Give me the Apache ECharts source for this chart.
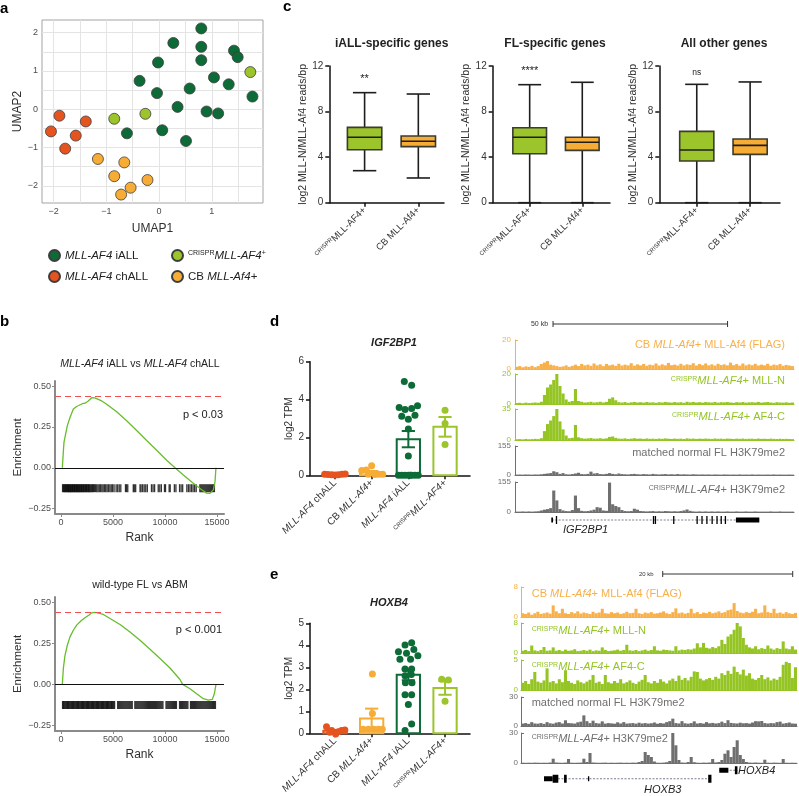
<!DOCTYPE html>
<html>
<head>
<meta charset="utf-8">
<script src="https://cdn.jsdelivr.net/npm/echarts@6/dist/echarts.min.js"></script>
<style>
html,body{margin:0;padding:0;background:#ffffff;}
#chart{width:799px;height:796px;}
</style>
</head>
<body>
<div id="chart"></div>
<script>
// ================= DATA =================
// Panel a: UMAP
const umapIALL = [[0.80,2.11],[0.27,1.73],[0.80,1.63],[1.42,1.53],[1.49,1.36],[0.80,1.28],[-0.02,1.22],[1.04,0.83],[-0.37,0.74],[1.32,0.65],[0.58,0.54],[-0.04,0.42],[1.77,0.33],[0.35,0.06],[0.90,-0.06],[1.12,-0.11],[0.06,-0.55],[-0.61,-0.63],[0.51,-0.83]];
const umapChALL = [[-1.89,-0.17],[-1.39,-0.32],[-2.05,-0.58],[-1.58,-0.69],[-1.78,-1.03]];
const umapCRISPR = [[1.73,0.97],[-0.85,-0.25],[-0.26,-0.12]];
const umapCB = [[-1.16,-1.30],[-0.66,-1.39],[-0.85,-1.75],[-0.22,-1.85],[-0.54,-2.05],[-0.72,-2.23]];
const umapTicksX = [-2,-1,0,1];
const umapTicksY = [-2,-1,0,1,2];
const umapGridX = [-2,-1.5,-1,-0.5,0,0.5,1,1.5];
const umapGridY = [-2,-1.5,-1,-0.5,0,0.5,1,1.5,2];
const umapNames = ['MLL-AF4 iALL','MLL-AF4 chALL','CRISPR MLL-AF4+','CB MLL-Af4+'];

// Panel b: GSEA running enrichment
const gsea1 = [[128,0],[224,0.097],[288,0.157],[385,0.188],[609,0.258],[865,0.308],[1186,0.359],[1506,0.375],[1700,0.381],[1891,0.379],[2050,0.392],[2308,0.395],[2500,0.402],[2628,0.409],[2800,0.418],[2949,0.429],[3109,0.436],[3250,0.428],[3429,0.423],[3910,0.409],[4391,0.389],[5353,0.343],[6314,0.288],[7276,0.228],[8237,0.167],[9199,0.107],[10160,0.046],[10962,0],[11763,-0.044],[12724,-0.095],[13526,-0.135],[14006,-0.155],[14327,-0.157],[14647,-0.135],[14808,-0.085],[14900,0]];
const gsea2 = [[128,0],[224,0.096],[385,0.177],[609,0.238],[865,0.289],[1186,0.329],[1506,0.36],[1987,0.39],[2300,0.405],[2468,0.417],[2700,0.422],[2949,0.435],[3200,0.437],[3429,0.436],[4071,0.425],[4712,0.40],[5673,0.364],[6635,0.319],[7596,0.268],[8558,0.213],[9519,0.157],[10481,0.10],[11442,0.03],[11699,0],[12404,-0.026],[13045,-0.057],[13686,-0.087],[14167,-0.096],[14551,-0.091],[14744,-0.057],[14904,0]];
const gseaMax1 = 0.436;
const gseaMax2 = 0.437;
const hits1 = [150,230,300,360,430,490,550,620,680,740,800,870,930,990,1060,1120,1180,1250,1310,1370,1440,1500,1570,1630,1700,1760,1830,1900,1960,2030,2100,2160,2230,2300,2370,2440,2510,2580,2650,2720,2800,2880,2960,3040,3130,3220,3330,3440,3560,3680,3800,3930,4050,4180,4300,4430,4560,4700,4830,4960,5100,5300,5450,5600,5750,6200,6300,6420,6950,7050,7180,7600,7700,7850,8000,8150,8300,8700,8850,9000,9350,9500,9650,9950,10050,10400,10500,10900,11050,11400,11550,11700,12100,12250,12400,12550,12700,12850,13000,13350,13450,13550,13650,13750,13850,13950,14050,14150,14250,14350,14450,14550,14650,14750];
const hits2 = [150,230,310,390,470,550,630,710,790,870,950,1030,1110,1190,1270,1350,1430,1510,1590,1670,1750,1830,1910,1990,2070,2150,2230,2310,2390,2470,2550,2630,2710,2790,2870,2950,3030,3110,3190,3270,3350,3430,3510,3590,3670,3750,3830,3910,3990,4070,4150,4230,4310,4390,4470,4550,4630,4710,4790,4870,4950,5050,5150,5450,5550,5650,5750,5850,5950,6050,6150,6250,6350,6450,6550,6650,6750,6850,7100,7200,7300,7400,7500,7600,7700,7800,7900,8000,8100,8200,8300,8400,8500,8600,8700,8800,8900,9000,9100,9200,9300,9400,9500,9600,9700,9800,10100,10200,10300,10400,10500,10600,10700,10800,10900,11000,11100,11400,11500,11600,11700,11800,11900,12000,12100,12200,12450,12550,12650,12750,12850,12950,13050,13150,13250,13350,13450,13550,13650,13750,13850,13950,14050,14150,14250,14350,14450,14550,14650,14750,14850];
const rankTicks = [0,5000,10000,15000];
const esTicks = [-0.25,0,0.25,0.5];

// Panel c: boxplots [position, min, Q1, median, Q3, max]
const boxIALL = [[1,2.81,4.65,5.74,6.61,9.66],[2,2.17,4.92,5.39,5.85,9.54]];
const boxFL = [[1,0,4.30,5.74,6.58,10.36],[2,0,4.59,5.30,5.74,10.57]];
const boxOther = [[1,0,3.66,4.62,6.26,10.39],[2,0,4.24,5.03,5.59,10.60]];
const boxTitles = ['iALL-specific genes','FL-specific genes','All other genes'];
const boxSig = ['**','****','ns'];
const boxCats = ['{s|CRISPR}{n|MLL-AF4+}','{n|CB MLL-Af4+}'];
const boxTicksY = [0,4,8,12];

// Panel d: IGF2BP1 log2 TPM
const dChALL = [0.06,0.04,0.03,0.02,0.03,0.05,0.07];
const dChALLJit = [-0.28,-0.19,-0.09,0,0.09,0.19,0.28];
const dCB = [0.25,0.51,0.28,0.05,0.04,0.05,0.06];
const dCBJit = [-0.27,0,-0.15,-0.09,0.09,0.2,0.3];
const dIALL = [4.96,4.75,3.58,3.47,3.53,3.68,3.12,2.96,3.17,2.44,1.02,0,0,0,0,0,0,0,0];
const dIALLJit = [-0.11,0.09,-0.25,-0.09,0.09,0.25,-0.18,0,0.18,0,0,-0.27,-0.18,-0.09,0,0.09,0.18,0.27,0.05];
const dCRISPR = [3.44,2.74,1.63];
const dCRISPRJit = [0,0,0];
const dMean = [0.04,0.16,1.91,2.56];
const dSem = [0.01,0.07,0.43,0.52];
const dTicksY = [0,2,4,6];

// Panel e: HOXB4 log2 TPM
const eChALL = [0.30,0.12,-0.03,0.07,0.12,0.15,0.05];
const eChALLJit = [-0.23,-0.09,0.02,0.09,0.18,0.27,-0.14];
const eCB = [2.70,0.90,0.18,0.18,0.18,0.18,0.18];
const eCBJit = [0.02,0.02,-0.23,-0.09,0.06,0.18,0.29];
const eIALL = [4.01,4.11,3.71,3.64,3.81,3.37,3.37,3.52,2.92,2.92,2.62,2.67,2.30,2.30,1.75,1.75,1.31,0.42,0.12];
const eIALLJit = [-0.09,0.09,-0.27,-0.05,0.15,-0.23,0.06,0.26,-0.09,0.09,-0.09,0.08,-0.08,0.1,-0.09,0.09,0,0.09,-0.09];
const eCRISPR = [2.46,2.42,1.46];
const eCRISPRJit = [-0.09,0.09,0];
const eMean = [0.11,0.67,2.66,2.06];
const eSem = [0.04,0.45,0.25,0.31];
const eTicksY = [0,1,2,3,4,5];
const barCats = ['{i|MLL-AF4}{n| chALL}','{n|CB }{i|MLL-Af4+}','{i|MLL-AF4}{n| iALL}','{s|CRISPR}{i|MLL-AF4+}'];

// Genome browser tracks, panel d (IGF2BP1 locus)
const dT1 = [1.5,2,1.2,1.8,1.5,2.2,1.3,2,3.5,4.5, 5.5,3,2.5,2,1.5,1.8,2.5,1.5,2.2,3, 2,3.5,2.5,3,2.2,3.8,2.5,3.2,2,3.5, 2.5,3,2.2,3.6,2.4,3,2.5,4,2.3,3.2, 2.5,3.5,2.2,3,2.6,3.8,2.4,3.2,2.5,4.2, 2.6,3,2.4,3.6,2.5,3.2,2.8,4,2.4,3.4, 2.6,3.8,2.5,3.2,2.4,3.6,2.7,3.2,2.5,4.4, 2.6,3.4,2.3,3.8,2.5,3.2,2.6,3.6,2.4,3, 2.5,3.6,2.3,3,2.6,3.4,2.2,2.8,2.4,2];
const dT2 = [0.6,0.8,0.5,0.9,0.6,0.8,1,0.8,1.5,6, 11,13,16,20,12,7,3,1.5,2,10, 2,1.5,1,1.2,1.5,1,1.2,1.5,1,1.4, 3.5,4.4,2.5,1.2,1,1.3,0.8,1.1,1.4,1, 1.2,0.9,1.3,1,1.1,0.8,1.2,1,1.4,1.1, 0.9,1.3,1,1.2,0.8,1.5,1.1,1.4,1,1.2, 0.9,1.3,1.1,1,1.4,0.9,1.2,1.1,1.3,1, 0.8,1.2,1,1.3,0.9,1.1,1.2,1,1.4,0.9, 1.1,1.3,1,0.8,1.2,1,0.9,1.1,0.8,1];
const dT3 = [0.8,1,0.7,1.2,0.8,1,1.3,1,2,10, 18,22,27,35,21,12,5,2,2.5,17, 3,2,1.5,1.8,2.2,1.5,1.6,2,1.4,1.8, 3.5,4,2.4,1.6,1.4,1.8,1.2,1.5,2,1.4, 1.6,1.2,1.7,1.3,1.5,1.2,1.6,1.3,1.8,1.4, 1.2,1.6,1.3,1.5,1.1,1.8,1.4,1.6,1.2,1.5, 1.3,1.6,1.4,1.2,1.7,1.3,1.5,1.2,1.6,1.4, 1.1,1.5,1.3,1.6,1.2,1.4,1.5,1.2,1.6,1.3, 1.4,1.2,1.5,1.3,1.1,1.4,1.2,1.3,1.1,1];
const dT4 = [2,2.5,2,3,2.5,2,3,2.5,4,6, 8,10,20,15,6,10,4,3,5,8, 12,5,4,6,18,8,10,5,4,6, 10,6,4,8,5,4,3,5,6,4, 3,5,4,3,6,4,3,4,5,3, 4,3,5,3,4,3,2.5,4,3,2.5, 3,2.5,3,2,3,2.5,2,3,2.5,2, 2.5,2,3,2,2.5,2,3,2,2.5,2, 2,2.5,2,3,2,2.5,2,2,2.5,2];
const dT5 = [2,2,3,2,3,2,3,4,8,12, 15,20,111,60,15,8,5,4,10,85, 20,6,4,5,8,12,25,22,8,6, 152,40,31,25,10,5,4,5,17,12, 5,4,3,4,5,3,4,3,5,4, 3,4,3,5,8,13,6,3,2,3, 2,3,2,3,2,3,2,2,3,2, 2,3,2,2,3,2,2,3,2,2, 2,2,3,2,2,3,2,2,2,2];
const dTrackMax = [20,20,35,155,155];
const dTrackLabels = ['{n|CB }{i|MLL-Af4}{n|+ MLL-Af4 (FLAG)}','{s|CRISPR}{i|MLL-AF4}{n|+ MLL-N}','{s|CRISPR}{i|MLL-AF4}{n|+ AF4-C}','{n|matched normal FL H3K79me2}','{s|CRISPR}{i|MLL-AF4}{n|+ H3K79me2}'];
// gene model (kb from track start): introns [start, end, row], exons [start, end, row, kind 0=UTR 1=coding]
const dSpanKb = 79.94;
const igfIntrons = [[10.5,70.0,0.5]];
const igfExons = [[10.4,10.9,0.5,0],[11.7,11.95,0.5,1],[39.5,39.75,0.5,1],[40.05,40.3,0.5,1],[45.3,45.55,0.5,1],[52.0,52.25,0.5,1],[53.4,53.65,0.5,1],[54.8,55.05,0.5,1],[56.3,56.55,0.5,1],[57.7,57.95,0.5,1],[58.9,59.15,0.5,1],[60.1,60.35,0.5,1],[63.3,70.0,0.5,0]];
const dScale = [[10.9,60.9]];
const dScaleLabel = '50 kb';

// Genome browser tracks, panel e (HOXB3/HOXB4 locus)
const eT1 = [1,0.8,1.2,0.6,1,1.4,0.8,1,1.2,0.9, 3.1,1.5,1,2.2,1,0.8,1.3,1,1.5,0.9, 1.2,1,0.8,1.4,1,1.2,2.2,1,0.9,1.3, 1,1.2,0.8,1,1.4,1,1.1,2.2,1,0.8, 1.2,1,1.3,0.9,1,1.2,1.5,1,0.8,1.3, 2.3,1,1.2,0.9,1.1,2.2,1,1.3,0.8,1.2, 1,1.4,1,1.2,1.5,1.1,1.3,1.8,2,3.7, 1.6,1.2,1,1.3,1.1,1.4,2.2,1,1.2,3.1, 1.3,1.1,2.2,1,1.2,0.9,1.3,1,0.8,1.1];
const eT2 = [0.6,0.8,0.5,2,0.7,0.5,0.8,1.6,0.6,0.7, 1.5,0.6,0.8,0.5,0.9,0.6,0.7,1,0.5,0.6, 0.8,0.6,0.9,0.5,0.7,0.6,1.5,0.8,0.5,0.6, 0.7,0.9,0.6,0.8,2.2,0.7,0.6,0.8,0.5,0.7, 0.9,0.6,0.8,1.8,0.7,0.6,0.9,0.8,0.7,0.6, 1.8,0.7,0.9,0.8,1,0.9,1.2,2.6,1.5,2.7, 1.4,1.2,1.6,1.3,1.8,3.5,2.4,4.4,5,6.2, 8,7.1,4,2.2,1.5,1.2,1.8,1,1.3,1.1, 2,1.2,0.9,1.3,1.1,3.1,1.2,1,1.8,0.9];
const eT3 = [1.2,1.5,1,1.8,3,1.4,1.2,1.6,3.6,1.3, 1.5,1.1,1.8,1.3,3.3,1.5,1.2,1,1.6,1.3, 1.1,1.4,1.7,2.5,1.2,1.4,1,2.5,1.3,1.1, 1.5,1.2,1.8,1.1,1.3,1.6,1.2,1,1.4,1.7, 2.5,1.3,1.1,1.5,1.2,1.8,1.4,1.1,1.6,1.9, 1.5,2.4,1.7,2,1.6,2.2,3.1,3,1.9,1.6, 1.8,2,1.7,2.2,1.9,2.8,2.5,3.2,2.7,3.9, 3,2.6,3.4,2.4,2.8,1.9,1.7,2,2.5,1.8, 2.1,1.6,1.9,1.7,2.2,4.2,4.7,4.5,2,3.8];
const eT4 = [2.5,3,2.2,4,2.6,2.4,3,2.2,4,2.8, 2.4,3.5,4,2.6,5.9,3,2.8,2.5,3.8,4.5, 11,5,3,5.5,3,2.6,4.8,2.5,3,2.7, 2.4,3.8,2.6,4,2.5,2.8,3,2.4,3.4,2.6, 3,2.5,2.8,3.6,2.4,3,2.6,4,5,7.6, 3,2.6,5,2.8,2.4,3,4.8,2.6,3,2.5, 4,2.8,3.2,2.6,3,4.5,3,6,3.2,2.8, 2.6,3.4,2.8,3,2.5,3.6,5,4.8,5.2,3, 2.6,3,2.8,4,4.5,2.5,3,3.6,2.6,2.4];
const eT5 = [0.3,0.2,0.3,0.2,0.4,0.3,0.2,0.3,0.2,0.5, 4.3,0.5,0.3,0.2,0.4,4,0.3,0.2,0.3,0.4, 4.3,1,10,0.5,0.3,0.2,0.3,0.4,0.2,0.3, 0.2,0.3,0.4,0.2,0.3,0.2,0.4,0.3,1,2, 11,8,6,1.5,0.3,0.2,0.4,0.8,2,30, 17.7,3,0.5,0.3,1,6,0.8,0.3,0.2,0.4, 0.3,0.5,4,0.6,1,3,9.3,12.7,6,16, 22.7,8,4,1,0.4,0.3,0.5,0.3,0.2,3.3, 0.3,0.2,0.4,0.3,0.2,4,0.3,0.2,0.3,0.2];
const eTrackMax = [8,8,5,30,30];
const eTrackLabels = dTrackLabels;
const eSpanKb = 42.46;
const hoxIntrons = [[3.54,29.3,0.5],[30.5,33.3,1.5]];
const hoxExons = [[3.54,4.87,0.5,0],[4.87,5.74,0.5,1],[6.62,7.03,0.5,1],[10.3,10.5,0.5,0],[28.8,29.3,0.5,1],[30.5,31.9,1.5,0],[32.9,33.3,1.5,1]];
const eScale = [[21.8,41.8]];
const eScaleLabel = '20 kb';

// ================= STYLE / LAYOUT =================
const FONT = '"Liberation Sans", Arial, Helvetica, sans-serif';
const COL = {iall:'#0d6b37', chall:'#e5531f', crispr:'#9cc52b', cb:'#f6ac35'};
const TRK = {orange:'#f8b04a', green:'#94c524', grey:'#6f6f6f'};
const groupColors = [COL.chall, COL.cb, COL.iall, COL.crispr];

function ecRich(size, color) {
  const b = {fontFamily: FONT, fontSize: size, color: color};
  return {
    n: Object.assign({}, b),
    i: Object.assign({}, b, {fontStyle: 'italic'}),
    s: Object.assign({}, b, {fontSize: Math.max(5, Math.round(size * 0.6)), verticalAlign: 'top'})
  };
}
function zrRich(size, color) {
  const b = {fontFamily: FONT, fontSize: size, fill: color, color: color};
  return {
    n: Object.assign({}, b),
    i: Object.assign({}, b, {fontStyle: 'italic'}),
    s: Object.assign({}, b, {fontSize: Math.max(5, Math.round(size * 0.6)), verticalAlign: 'top'})
  };
}
function fmtMinus(v) { return v < 0 ? '\u2212' + String(-v) : String(v); }
function fmtES(v) { return v < 0 ? '\u2212' + (-v).toFixed(2) : v.toFixed(2); }
function fmtPlain(v) { return String(v); }

const grids = [], xAxes = [], yAxes = [], series = [], graphics = [];
function addGrid(g, x, y) {
  grids.push(Object.assign({containLabel: false}, g));
  const gi = grids.length - 1;
  xAxes.push(Object.assign({gridIndex: gi}, x));
  yAxes.push(Object.assign({gridIndex: gi}, y));
  return gi;
}
function txt(x, y, text, size, color, align, opt) {
  opt = opt || {};
  graphics.push({
    type: 'text', x: x, y: y, rotation: opt.rot || 0, silent: true, z: 100,
    style: {
      text: text, rich: zrRich(size, color),
      font: (opt.italic ? 'italic ' : '') + (opt.weight || 'normal') + ' ' + size + 'px ' + FONT,
      fill: color, align: align || 'left', verticalAlign: 'middle'
    }
  });
}
const nameStyle = (s) => ({fontSize: s, color: '#303030', fontFamily: FONT});

// ---------- Panel a: UMAP ----------
const gA = addGrid({left: 42, top: 20, width: 221, height: 183, show: true, borderColor: '#a3a3a3', borderWidth: 1},
  {type: 'value', min: -2.22, max: 1.97, axisLine: {show: false, onZero: false},
   axisTick: {show: false, customValues: umapGridX},
   axisLabel: {customValues: umapTicksX, formatter: fmtMinus, fontSize: 9, color: '#4d4d4d', margin: 4, fontFamily: FONT},
   splitLine: {show: true, lineStyle: {color: '#e4e4e4', width: 1}},
   name: 'UMAP1', nameLocation: 'middle', nameGap: 20, nameTextStyle: nameStyle(12)},
  {type: 'value', min: -2.45, max: 2.33, axisLine: {show: false, onZero: false},
   axisTick: {show: false, customValues: umapGridY},
   axisLabel: {customValues: umapTicksY, formatter: fmtMinus, fontSize: 9, color: '#4d4d4d', margin: 4, fontFamily: FONT},
   splitLine: {show: true, lineStyle: {color: '#e4e4e4', width: 1}},
   name: 'UMAP2', nameLocation: 'middle', nameGap: 18, nameTextStyle: nameStyle(12)});
[[umapIALL, COL.iall], [umapChALL, COL.chall], [umapCRISPR, COL.crispr], [umapCB, COL.cb]].forEach((d, k) => {
  series.push({type: 'scatter', name: umapNames[k], xAxisIndex: gA, yAxisIndex: gA, data: d[0], symbolSize: 11,
    itemStyle: {color: d[1], borderColor: '#3d3d3d', borderWidth: 0.8, opacity: 1}, z: 5});
});
const legendFmt = {
  'MLL-AF4 iALL': '{i|MLL-AF4}{n| iALL}',
  'MLL-AF4 chALL': '{i|MLL-AF4}{n| chALL}',
  'CRISPR MLL-AF4+': '{s|CRISPR}{i|MLL-AF4}{s|+}',
  'CB MLL-Af4+': '{n|CB }{i|MLL-Af4}{n|+}'
};
const legendBase = {orient: 'vertical', icon: 'circle', itemWidth: 11, itemHeight: 11, itemGap: 8, top: 244,
  formatter: (n) => legendFmt[n], textStyle: {rich: ecRich(11.5, '#222'), fontSize: 11.5, color: '#222'}, selectedMode: false};

// ---------- Panel b: GSEA ----------
function gseaGrid(top, height, curve, esMax, hits) {
  const g = addGrid({left: 55, top: top, width: 169, height: height},
    {type: 'value', min: -577, max: 15673,
     axisLine: {show: true, onZero: false, lineStyle: {color: '#8a8a8a', width: 2}},
     axisTick: {show: true, customValues: rankTicks, length: 3, lineStyle: {color: '#8a8a8a'}},
     axisLabel: {customValues: rankTicks, formatter: fmtPlain, fontSize: 9, color: '#4d4d4d', margin: 4, fontFamily: FONT},
     splitLine: {show: false}, name: 'Rank', nameLocation: 'middle', nameGap: 18, nameTextStyle: nameStyle(12)},
    {type: 'value', min: -0.283, max: 0.531,
     axisLine: {show: true, onZero: false, lineStyle: {color: '#8a8a8a', width: 2}},
     axisTick: {show: true, customValues: esTicks, length: 3, lineStyle: {color: '#8a8a8a'}},
     axisLabel: {customValues: esTicks, formatter: fmtES, fontSize: 9, color: '#4d4d4d', margin: 4, fontFamily: FONT},
     splitLine: {show: false}, name: 'Enrichment', nameLocation: 'middle', nameGap: 27, nameTextStyle: nameStyle(11.5)});
  series.push({type: 'line', xAxisIndex: g, yAxisIndex: g, data: curve, showSymbol: false, z: 4,
    lineStyle: {color: '#67bd2b', width: 1.3}, itemStyle: {color: '#67bd2b'},
    markLine: {silent: true, symbol: 'none', label: {show: false}, animation: false,
      data: [{yAxis: 0, lineStyle: {color: '#111', width: 1, type: 'solid'}},
             {yAxis: esMax, lineStyle: {color: '#ef4f4f', width: 1, type: [6, 4]}}]}});
  series.push({type: 'scatter', xAxisIndex: g, yAxisIndex: g, data: hits.map(r => [r, -0.125]),
    symbol: 'rect', symbolSize: [1.3, 8], itemStyle: {color: '#000000'}, z: 3, silent: true});
}
gseaGrid(381, 133, gsea1, gseaMax1, hits1);
gseaGrid(597, 134, gsea2, gseaMax2, hits2);

// ---------- Panel c: boxplots ----------
const BOX_HALF = 0.32;
const boxFill = [COL.crispr, COL.cb];
function renderBox(params, api) {
  const x = api.value(0);
  const p = (i) => api.coord([x, api.value(i)]);
  const lo = p(1), q1 = p(2), md = p(3), q3 = p(4), hi = p(5);
  const hw = api.size([BOX_HALF, 0])[0];
  const cw = hw * 0.68;
  const ls = {stroke: '#1e1e1e', lineWidth: 1.6};
  return {type: 'group', children: [
    {type: 'line', shape: {x1: lo[0], y1: lo[1], x2: q1[0], y2: q1[1]}, style: ls},
    {type: 'line', shape: {x1: q3[0], y1: q3[1], x2: hi[0], y2: hi[1]}, style: ls},
    {type: 'line', shape: {x1: hi[0] - cw, y1: hi[1], x2: hi[0] + cw, y2: hi[1]}, style: ls},
    {type: 'line', shape: {x1: lo[0] - cw, y1: lo[1], x2: lo[0] + cw, y2: lo[1]}, style: ls},
    {type: 'rect', shape: {x: q3[0] - hw, y: q3[1], width: 2 * hw, height: q1[1] - q3[1]},
     style: {fill: boxFill[params.dataIndex], stroke: '#3b3b30', lineWidth: 1.6}},
    {type: 'line', shape: {x1: md[0] - hw, y1: md[1], x2: md[0] + hw, y2: md[1]}, style: {stroke: '#1e1e1e', lineWidth: 1.6}}
  ]};
}
const boxLayout = [[329.3, 114.7, 0.343, 2.478], [492.7, 117.3, 0.297, 2.527], [659.3, 120.7, 0.298, 2.56]];
[boxIALL, boxFL, boxOther].forEach((bd, k) => {
  const L = boxLayout[k];
  const g = addGrid({left: L[0], top: 66, width: L[1], height: 136.7},
    {type: 'value', min: L[2], max: L[3],
     axisLine: {show: true, onZero: false, lineStyle: {color: '#111', width: 1.5}},
     axisTick: {show: true, customValues: [1, 2], length: 4, lineStyle: {color: '#111', width: 1.5}},
     axisLabel: {customValues: [1, 2], rotate: 45, margin: 6, formatter: (v) => boxCats[Math.round(v) - 1], rich: ecRich(9.5, '#333')},
     splitLine: {show: false}},
    {type: 'value', min: 0, max: 12,
     axisLine: {show: true, onZero: false, lineStyle: {color: '#111', width: 1.5}},
     axisTick: {show: true, customValues: boxTicksY, length: 4, lineStyle: {color: '#111', width: 1.5}},
     axisLabel: {customValues: boxTicksY, fontSize: 10, color: '#333', margin: 6, fontFamily: FONT},
     splitLine: {show: false}, name: 'log2 MLL-N/MLL-Af4 reads/bp', nameLocation: 'middle', nameGap: 19, nameTextStyle: nameStyle(10.5)});
  series.push({type: 'custom', xAxisIndex: g, yAxisIndex: g, data: bd, renderItem: renderBox, z: 3, silent: true});
});

// ---------- Panels d/e: bar + dot plots ----------
const BAR_HALF = 0.317, CAP_HALF = 0.18;
function renderBar(params, api) {
  const x = api.value(0), m = api.value(1), e = api.value(2);
  const base = api.coord([x, 0]), top = api.coord([x, m]);
  const hw = api.size([BAR_HALF, 0])[0], cw = api.size([CAP_HALF, 0])[0];
  const eh = api.coord([x, m + e]), el = api.coord([x, m - e]);
  const col = groupColors[params.dataIndex];
  const ls = {stroke: col, lineWidth: 2};
  return {type: 'group', children: [
    {type: 'rect', shape: {x: base[0] - hw, y: top[1], width: 2 * hw, height: Math.max(0.5, base[1] - top[1])}, style: {fill: '#ffffff', stroke: col, lineWidth: 2}},
    {type: 'line', shape: {x1: eh[0], y1: eh[1], x2: el[0], y2: el[1]}, style: ls},
    {type: 'line', shape: {x1: eh[0] - cw, y1: eh[1], x2: eh[0] + cw, y2: eh[1]}, style: ls},
    {type: 'line', shape: {x1: el[0] - cw, y1: el[1], x2: el[0] + cw, y2: el[1]}, style: ls}
  ]};
}
function barPanel(top, height, ymax, yticks, means, sems, groups) {
  const g = addGrid({left: 310, top: top, width: 160, height: height},
    {type: 'value', min: -0.68, max: 3.68,
     axisLine: {show: true, onZero: false, lineStyle: {color: '#111', width: 1.5}},
     axisTick: {show: true, customValues: [0, 1, 2, 3], length: 4, lineStyle: {color: '#111', width: 1.5}},
     axisLabel: {customValues: [0, 1, 2, 3], rotate: 45, margin: 6, formatter: (v) => barCats[Math.round(v)], rich: ecRich(10, '#333')},
     splitLine: {show: false}},
    {type: 'value', min: 0, max: ymax,
     axisLine: {show: true, onZero: false, lineStyle: {color: '#111', width: 1.5}},
     axisTick: {show: true, customValues: yticks, length: 4, lineStyle: {color: '#111', width: 1.5}},
     axisLabel: {customValues: yticks, fontSize: 10, color: '#333', margin: 6, fontFamily: FONT},
     splitLine: {show: false}, name: 'log2 TPM', nameLocation: 'middle', nameGap: 16, nameTextStyle: nameStyle(10)});
  series.push({type: 'custom', xAxisIndex: g, yAxisIndex: g, data: means.map((m, i) => [i, m, sems[i]]), renderItem: renderBar, z: 2, silent: true, clip: false});
  groups.forEach((gr, i) => {
    series.push({type: 'scatter', xAxisIndex: g, yAxisIndex: g, data: gr[0].map((v, j) => [i + gr[1][j], v]),
      symbolSize: 7, itemStyle: {color: groupColors[i], opacity: 1}, z: 3, silent: true, clip: false});
  });
}
barPanel(361.7, 113.6, 6, dTicksY, dMean, dSem, [[dChALL, dChALLJit], [dCB, dCBJit], [dIALL, dIALLJit], [dCRISPR, dCRISPRJit]]);
barPanel(623.3, 111.7, 5, eTicksY, eMean, eSem, [[eChALL, eChALLJit], [eCB, eCBJit], [eIALL, eIALLJit], [eCRISPR, eCRISPRJit]]);

// ---------- Tracks ----------
const trackColors = [TRK.orange, TRK.green, TRK.green, TRK.grey, TRK.grey];
function trackSet(left, width, layout, tracks, maxes, labelMargin) {
  tracks.forEach((vals, k) => {
    const col = trackColors[k];
    const g = addGrid({left: left, top: layout[k][0], width: width, height: layout[k][1]},
      {type: 'category', data: vals.map((v, i) => i), boundaryGap: true,
       axisLine: {show: true, onZero: false, lineStyle: {color: col, width: 1}},
       axisTick: {show: false}, axisLabel: {show: false}, splitLine: {show: false}},
      {type: 'value', min: 0, max: maxes[k],
       axisLine: {show: true, onZero: false, lineStyle: {color: col, width: 1}},
       axisTick: {show: true, inside: true, customValues: [0, maxes[k]], length: 3, lineStyle: {color: col}},
       axisLabel: {customValues: [0, maxes[k]], fontSize: 8, color: col, margin: labelMargin, fontFamily: FONT},
       splitLine: {show: false}});
    series.push({type: 'bar', xAxisIndex: g, yAxisIndex: g, data: vals, barCategoryGap: '0%', barGap: '0%',
      itemStyle: {color: col}, silent: true, z: 2});
  });
}
trackSet(515, 279, [[340, 29], [374, 30], [409, 31], [446, 29], [482, 30]], [dT1, dT2, dT3, dT4, dT5], dTrackMax, 4);
trackSet(521, 276, [[587, 30], [623, 30], [660, 30], [697, 29], [733, 30]], [eT1, eT2, eT3, eT4, eT5], eTrackMax, 3);

// gene models
function renderIntron(params, api) {
  const a = api.coord([api.value(0), api.value(2)]), b = api.coord([api.value(1), api.value(2)]);
  return {type: 'line', shape: {x1: a[0], y1: a[1], x2: b[0], y2: b[1]}, style: {stroke: '#7a7f8c', lineWidth: 1, lineDash: [2, 1.5]}};
}
function renderExon(params, api) {
  const a = api.coord([api.value(0), api.value(2)]), b = api.coord([api.value(1), api.value(2)]);
  const h = api.value(3) === 1 ? 8 : 5;
  return {type: 'rect', shape: {x: a[0], y: a[1] - h / 2, width: Math.max(1.3, b[0] - a[0]), height: h}, style: {fill: '#000'}};
}
function geneGrid(left, width, top, height, span, rows, introns, exons) {
  const g = addGrid({left: left, top: top, width: width, height: height},
    {type: 'value', min: 0, max: span, show: false}, {type: 'value', min: 0, max: rows, show: false});
  series.push({type: 'custom', xAxisIndex: g, yAxisIndex: g, data: introns, renderItem: renderIntron, silent: true, clip: false});
  series.push({type: 'custom', xAxisIndex: g, yAxisIndex: g, data: exons, renderItem: renderExon, silent: true, clip: false, z: 3});
}
geneGrid(515, 279, 514, 12, dSpanKb, 1, igfIntrons, igfExons);
geneGrid(521, 276, 766, 17, eSpanKb, 2, hoxIntrons, hoxExons);

function scaleGrid(left, width, top, span, data, label, fsize, gap) {
  const g = addGrid({left: left, top: top, width: width, height: 12},
    {type: 'value', min: 0, max: span, show: false}, {type: 'value', min: 0, max: 1, show: false});
  series.push({type: 'custom', xAxisIndex: g, yAxisIndex: g, data: data, silent: true, clip: false,
    renderItem: (params, api) => {
      const a = api.coord([api.value(0), 0.5]), b = api.coord([api.value(1), 0.5]);
      const st = {stroke: '#333', lineWidth: 1};
      return {type: 'group', children: [
        {type: 'line', shape: {x1: a[0], y1: a[1], x2: b[0], y2: b[1]}, style: st},
        {type: 'line', shape: {x1: a[0], y1: a[1] - 3, x2: a[0], y2: a[1] + 3}, style: st},
        {type: 'line', shape: {x1: b[0], y1: b[1] - 3, x2: b[0], y2: b[1] + 3}, style: st},
        {type: 'text', style: {text: label, x: a[0] - gap, y: a[1], fill: '#333', font: fsize + 'px ' + FONT, align: 'right', verticalAlign: 'middle'}}
      ]};
    }});
}
scaleGrid(515, 279, 318, dSpanKb, dScale, dScaleLabel, 7, 5);
scaleGrid(521, 276, 568, eSpanKb, eScale, eScaleLabel, 6, 9);

// ---------- Text annotations ----------
txt(0, 9, 'a', 15, '#000', 'left', {weight: 'bold'});
txt(0, 322, 'b', 15, '#000', 'left', {weight: 'bold'});
txt(283, 7, 'c', 15, '#000', 'left', {weight: 'bold'});
txt(270, 322, 'd', 15, '#000', 'left', {weight: 'bold'});
txt(270, 575, 'e', 15, '#000', 'left', {weight: 'bold'});
txt(140, 364, '{i|MLL-AF4}{n| iALL vs }{i|MLL-AF4}{n| chALL}', 10.5, '#222', 'center');
txt(140, 585, 'wild-type FL vs ABM', 10.5, '#222', 'center');
txt(223, 415, 'p < 0.03', 11, '#222', 'right');
txt(222, 630, 'p < 0.001', 11, '#222', 'right');
const boxTitleX = [391.7, 555, 724];
const boxSigPos = [[364.6, 79, 11], [529.7, 71, 11], [696.7, 73, 8.5]];
boxTitles.forEach((t, k) => txt(boxTitleX[k], 44, t, 12, '#222', 'center', {weight: 'bold'}));
boxSig.forEach((t, k) => txt(boxSigPos[k][0], boxSigPos[k][1], t, boxSigPos[k][2], '#222', 'center'));
txt(394, 343, 'IGF2BP1', 11, '#222', 'center', {weight: 'bold', italic: true});
txt(389, 603, 'HOXB4', 11, '#222', 'center', {weight: 'bold', italic: true});
const dLabelY = [345, 381, 416.7, 453.3, 490];
const eLabelY = [594.3, 630.7, 666.7, 703.3, 739.3];
dTrackLabels.forEach((t, k) => txt(785, dLabelY[k], t, 11, trackColors[k], 'right'));
eTrackLabels.forEach((t, k) => txt(531.7, eLabelY[k], t, 11, trackColors[k], 'left'));
txt(563, 530, 'IGF2BP1', 11, '#222', 'left', {italic: true});
txt(738, 770.7, 'HOXB4', 11, '#222', 'left', {italic: true});
txt(662.7, 790, 'HOXB3', 11, '#222', 'center', {italic: true});

const option = {
  animation: false,
  backgroundColor: '#ffffff',
  textStyle: {fontFamily: FONT},
  grid: grids, xAxis: xAxes, yAxis: yAxes, series: series,
  legend: [
    Object.assign({}, legendBase, {left: 43, data: ['MLL-AF4 iALL', 'MLL-AF4 chALL']}),
    Object.assign({}, legendBase, {left: 166, data: ['CRISPR MLL-AF4+', 'CB MLL-Af4+']})
  ],
  graphic: {elements: graphics}
};
const chart = echarts.init(document.getElementById('chart'), null, {renderer: 'canvas'});
chart.setOption(option);
</script>
</body>
</html>
